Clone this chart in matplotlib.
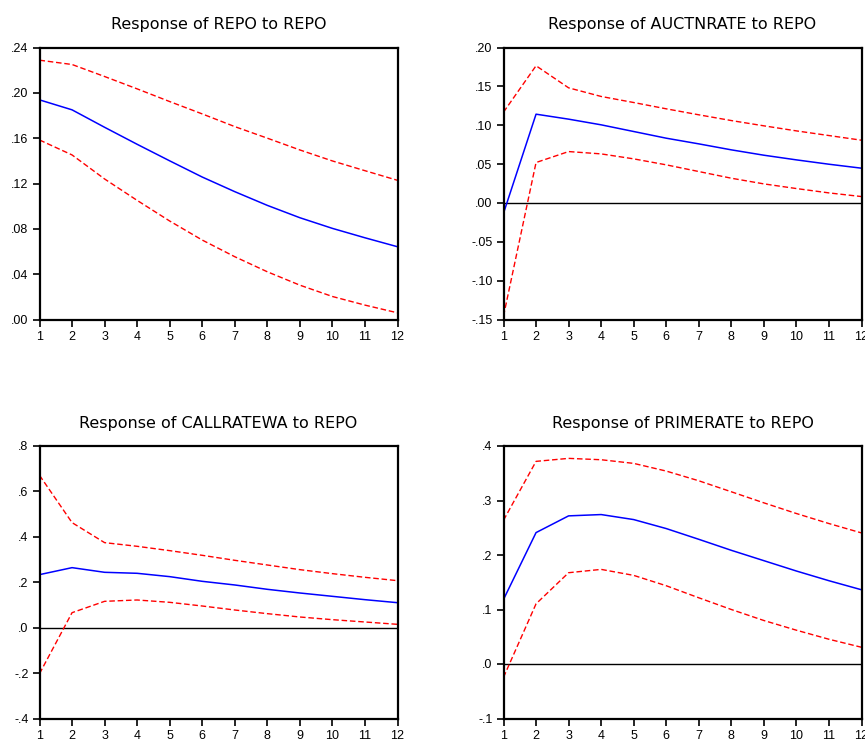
import matplotlib
matplotlib.use("Agg")
import matplotlib.pyplot as plt

periods = list(range(1, 13))

titles = ["Response of REPO to REPO", "Response of AUCTNRATE to REPO",
          "Response of CALLRATEWA to REPO", "Response of PRIMERATE to REPO"]

repo_mid = [0.1938, 0.185, 0.1696, 0.1546, 0.140, 0.1257, 0.1128, 0.1007, 0.0898, 0.0804, 0.0721, 0.0642]
repo_up = [0.2288, 0.225, 0.2144, 0.2035, 0.1923, 0.1814, 0.1702, 0.160, 0.1496, 0.1399, 0.1313, 0.1228]
repo_lo = [0.1584, 0.1452, 0.124, 0.1051, 0.0869, 0.0701, 0.0554, 0.0421, 0.0303, 0.0203, 0.0127, 0.0059]

auct_mid = [-0.0133, 0.1142, 0.1078, 0.1005, 0.0919, 0.0833, 0.076, 0.0683, 0.0614, 0.0554, 0.0498, 0.0447]
auct_up = [0.1168, 0.1765, 0.1481, 0.137, 0.1292, 0.1211, 0.1134, 0.106, 0.0992, 0.0927, 0.0867, 0.0807]
auct_lo = [-0.1456, 0.052, 0.0661, 0.0631, 0.0567, 0.049, 0.0404, 0.0318, 0.0245, 0.0185, 0.0129, 0.0082]

call_mid = [0.2335, 0.2643, 0.2438, 0.2394, 0.2247, 0.2041, 0.188, 0.1689, 0.1527, 0.138, 0.1233, 0.110]
call_up = [0.671, 0.4626, 0.3744, 0.3583, 0.3392, 0.3186, 0.2966, 0.276, 0.2555, 0.2379, 0.2217, 0.207]
call_lo = [-0.2026, 0.066, 0.116, 0.1219, 0.1116, 0.0954, 0.0778, 0.0617, 0.047, 0.0352, 0.025, 0.0147]

prime_mid = [0.1184, 0.2411, 0.2718, 0.2742, 0.265, 0.2485, 0.2288, 0.2086, 0.1896, 0.1706, 0.1528, 0.1362]
prime_up = [0.2638, 0.3718, 0.3773, 0.3748, 0.3681, 0.354, 0.3362, 0.316, 0.2957, 0.2761, 0.2577, 0.2405]
prime_lo = [-0.0245, 0.1104, 0.1675, 0.1736, 0.1626, 0.1436, 0.1215, 0.1, 0.0798, 0.062, 0.0454, 0.0307]

yticks = [
    [0.00, 0.04, 0.08, 0.12, 0.16, 0.20, 0.24],
    [-0.15, -0.10, -0.05, 0.00, 0.05, 0.10, 0.15, 0.20],
    [-0.4, -0.2, 0.0, 0.2, 0.4, 0.6, 0.8],
    [-0.1, 0.0, 0.1, 0.2, 0.3, 0.4],
]
ytick_labels = [
    [".00", ".04", ".08", ".12", ".16", ".20", ".24"],
    ["-.15", "-.10", "-.05", ".00", ".05", ".10", ".15", ".20"],
    ["-.4", "-.2", ".0", ".2", ".4", ".6", ".8"],
    ["-.1", ".0", ".1", ".2", ".3", ".4"],
]
zero_line = [False, True, True, True]

series = [(repo_mid, repo_up, repo_lo), (auct_mid, auct_up, auct_lo),
          (call_mid, call_up, call_lo), (prime_mid, prime_up, prime_lo)]

plt.rcParams['font.family'] = ['Liberation Sans', 'DejaVu Sans']

W, H = 865, 740
fig = plt.figure(figsize=(W / 100, H / 100), dpi=100)

boxes = [(39.5, 47.5, 397.5, 319.5), (503.5, 47.5, 861.5, 319.5),
         (39.5, 446, 397.5, 718.5), (503.5, 446, 861.5, 718.5)]

for i, (l, t, r, b) in enumerate(boxes):
    ax = fig.add_axes([l / W, 1 - b / H, (r - l) / W, (b - t) / H])
    mid, up, lo = series[i]
    if zero_line[i]:
        ax.axhline(0, color='black', lw=1.0, zorder=1)
    ax.plot(periods, up, color='#ff0000', lw=1.0, dashes=(4, 2))
    ax.plot(periods, lo, color='#ff0000', lw=1.0, dashes=(4, 2))
    ax.plot(periods, mid, color='#0000ff', lw=1.1)
    ax.set_xlim(1, 12)
    ax.set_ylim(yticks[i][0], yticks[i][-1])
    ax.set_xticks(periods)
    ax.set_xticklabels([str(p) for p in periods])
    ax.set_yticks(yticks[i])
    ax.set_yticklabels(ytick_labels[i])
    ax.tick_params(direction='out', length=5, width=1.2, labelsize=9, pad=3, colors='black')
    for s in ax.spines.values():
        s.set_linewidth(1.6)
    ax.set_title(titles[i], fontsize=11.5, pad=13, family=['DejaVu Sans'])

fig.savefig("out.png", dpi=100)
